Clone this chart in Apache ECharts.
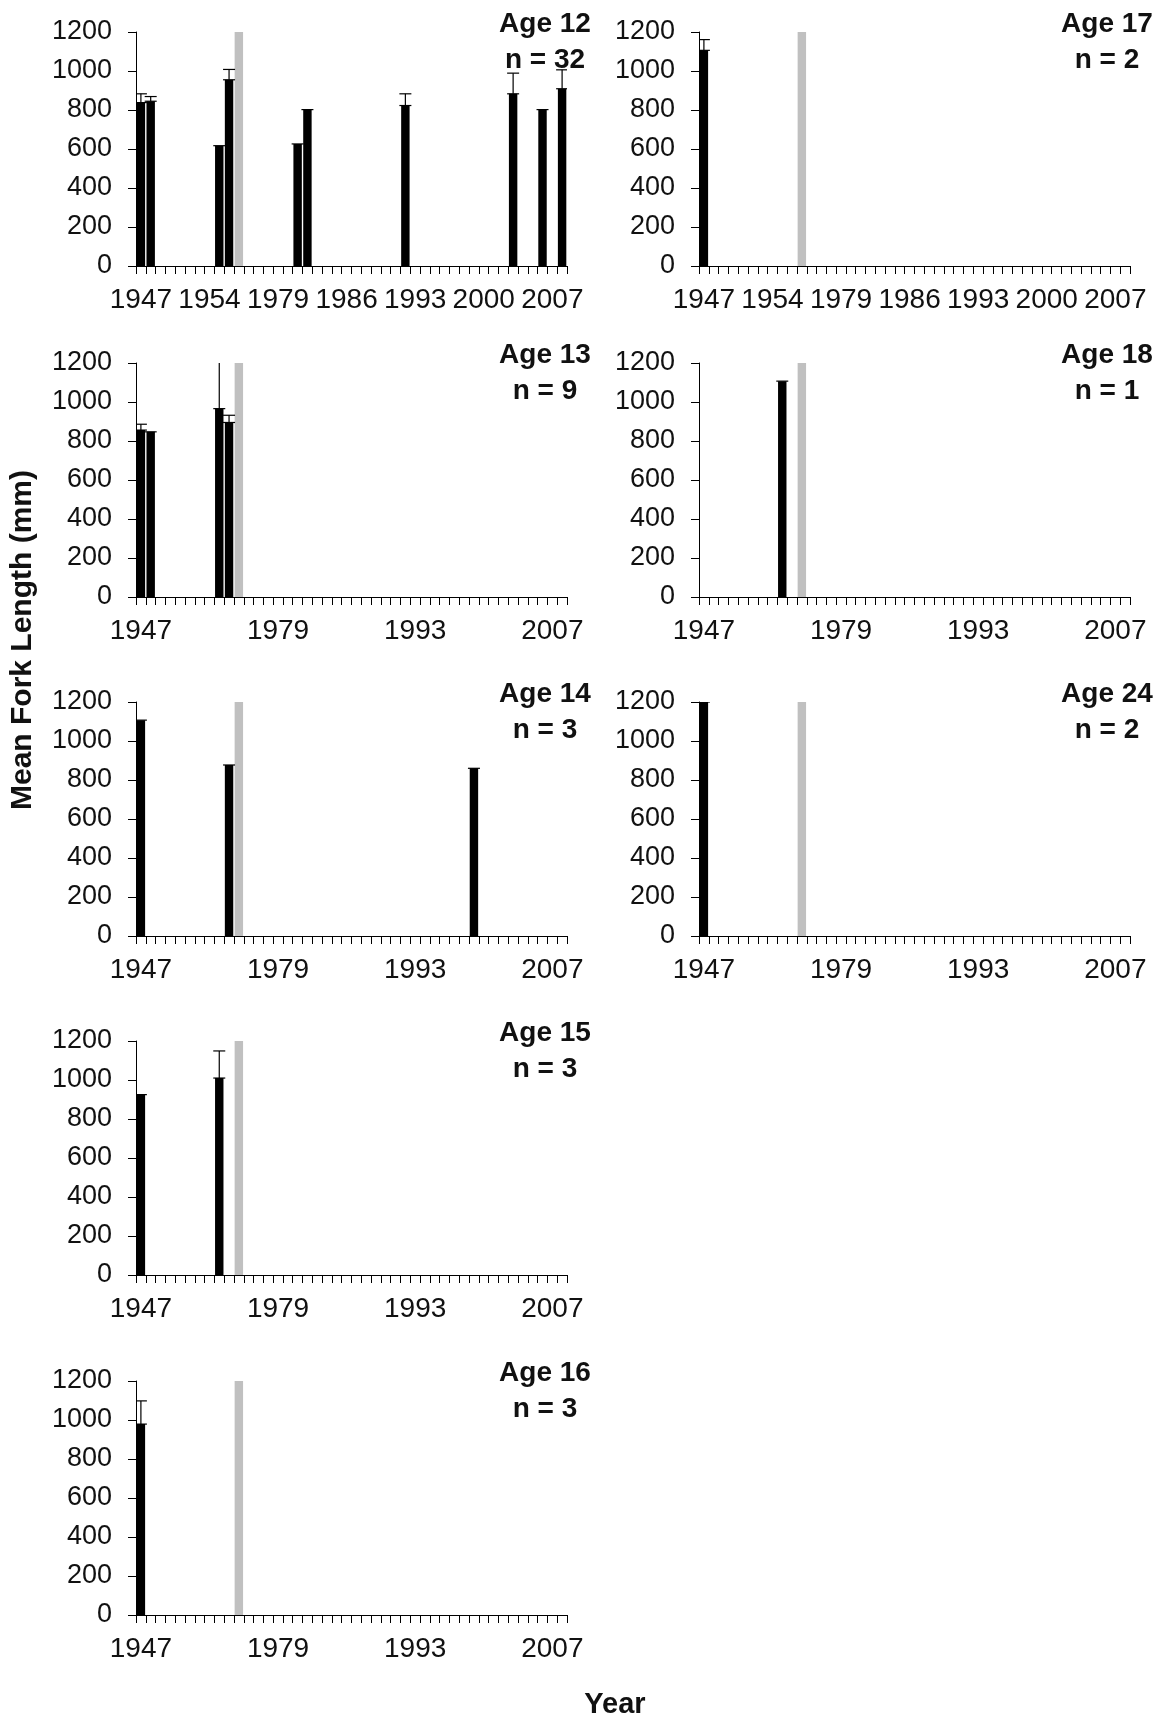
<!DOCTYPE html>
<html>
<head>
<meta charset="utf-8">
<script src="https://cdn.jsdelivr.net/npm/echarts@6/dist/echarts.min.js"></script>
<style>
  html, body { margin: 0; padding: 0; background: #fff; }
  #chart { width: 1166px; height: 1720px; }
</style>
</head>
<body>
<div id="chart"></div>
<script>
// 类目：1947-1956，一个断开位置（灰色柱），1976-2008
var years = ['1947','1948','1949','1950','1951','1952','1953','1954','1955','1956','',
  '1976','1977','1978','1979','1980','1981','1982','1983','1984','1985','1986','1987','1988',
  '1989','1990','1991','1992','1993','1994','1995','1996','1997','1998','1999','2000','2001',
  '2002','2003','2004','2005','2006','2007','2008'];
var breakValue = 1200;

var age12Years = ['1947','1948','1955','1956','1981','1982','1992','2003','2006','2008'];
var age12Mean  = [838, 845, 617, 955, 626, 802, 823, 883, 802, 909];
var age12Err   = [45, 24, 0, 53, 0, 0, 60, 106, 0, 97];

var age13Years = ['1947','1948','1955','1956'];
var age13Mean  = [856, 847, 966, 895];
var age13Err   = [30, 0, 240, 37];

var age14Years = ['1947','1956','1999'];
var age14Mean  = [1107, 877, 860];
var age14Err   = [0, 0, 0];

var age15Years = ['1947','1955'];
var age15Mean  = [925, 1010];
var age15Err   = [0, 139];

var age16Years = ['1947'];
var age16Mean  = [979];
var age16Err   = [119];

var age17Years = ['1947'];
var age17Mean  = [1106];
var age17Err   = [55];

var age18Years = ['1955'];
var age18Mean  = [1107];
var age18Err   = [0];

var age24Years = ['1947'];
var age24Mean  = [1200];
var age24Err   = [0];

var yTicks = [0, 200, 400, 600, 800, 1000, 1200];

// 面板: 标题, n, 数据, 列, 行, 标签间隔
var panels = [
  {title: 'Age 12', n: 32, yrs: age12Years, mean: age12Mean, err: age12Err, col: 0, row: 0, every: 6},
  {title: 'Age 13', n: 9,  yrs: age13Years, mean: age13Mean, err: age13Err, col: 0, row: 1, every: 13},
  {title: 'Age 14', n: 3,  yrs: age14Years, mean: age14Mean, err: age14Err, col: 0, row: 2, every: 13},
  {title: 'Age 15', n: 3,  yrs: age15Years, mean: age15Mean, err: age15Err, col: 0, row: 3, every: 13},
  {title: 'Age 16', n: 3,  yrs: age16Years, mean: age16Mean, err: age16Err, col: 0, row: 4, every: 13},
  {title: 'Age 17', n: 2,  yrs: age17Years, mean: age17Mean, err: age17Err, col: 1, row: 0, every: 6},
  {title: 'Age 18', n: 1,  yrs: age18Years, mean: age18Mean, err: age18Err, col: 1, row: 1, every: 13},
  {title: 'Age 24', n: 2,  yrs: age24Years, mean: age24Mean, err: age24Err, col: 1, row: 2, every: 13}
];

var colLeft = [136, 699];
var colTitleX = [545, 1107];
var rowTop = [32, 363, 702, 1041, 1381];
var gridW = 431, gridH = 234;

var font = 'Liberation Sans';

function renderErr(params, api) {
  var m = api.value(1), e = api.value(2);
  var base = api.coord([api.value(0), m]);
  var top = api.coord([api.value(0), m + e]);
  var hw = 6;
  var st = {stroke: '#000', lineWidth: 1.2};
  var kids = [{type: 'line', shape: {x1: base[0] - hw, y1: base[1], x2: base[0] + hw, y2: base[1]}, style: st}];
  if (e > 0) {
    kids.push({type: 'line', shape: {x1: base[0], y1: base[1], x2: base[0], y2: top[1]}, style: st});
    kids.push({type: 'line', shape: {x1: top[0] - hw, y1: top[1], x2: top[0] + hw, y2: top[1]}, style: st});
  }
  return {type: 'group', children: kids};
}

var option = {
  animation: false,
  backgroundColor: '#fff',
  grid: [], xAxis: [], yAxis: [], series: [], graphic: []
};

panels.forEach(function (p, i) {
  option.grid.push({left: colLeft[p.col], top: rowTop[p.row], width: gridW, height: gridH});
  option.xAxis.push({
    type: 'category', gridIndex: i, data: years, boundaryGap: true,
    axisLine: {lineStyle: {color: '#000', width: 1}},
    axisTick: {show: true, interval: 0, length: 8, lineStyle: {color: '#000'}},
    axisLabel: {interval: p.every, margin: 20, color: '#111', fontSize: 28, fontFamily: font},
    splitLine: {show: false}
  });
  option.yAxis.push({
    type: 'value', gridIndex: i, min: yTicks[0], max: yTicks[yTicks.length - 1], interval: 200,
    axisLine: {show: true, lineStyle: {color: '#000', width: 1}},
    axisTick: {show: true, length: 8, lineStyle: {color: '#000'}},
    axisLabel: {margin: 24, color: '#111', fontSize: 27, fontFamily: font,
      formatter: function (v) { return String(v); }},
    splitLine: {show: false}
  });
  var bars = p.yrs.map(function (y, k) { return [years.indexOf(y), p.mean[k]]; });
  var errs = p.yrs.map(function (y, k) { return [years.indexOf(y), p.mean[k], p.err[k]]; });
  option.series.push({
    type: 'bar', xAxisIndex: i, yAxisIndex: i, data: bars,
    barCategoryGap: '14%', barGap: '-100%',
    itemStyle: {color: '#000'}
  });
  option.series.push({
    type: 'bar', xAxisIndex: i, yAxisIndex: i, data: [[years.indexOf(''), breakValue]],
    barCategoryGap: '14%', barGap: '-100%',
    itemStyle: {color: '#c0c0c0'}
  });
  option.series.push({
    type: 'custom', xAxisIndex: i, yAxisIndex: i, data: errs, clip: true, z: 5,
    renderItem: renderErr, encode: {x: 0, y: 1}
  });
  option.graphic.push({
    type: 'text', x: colTitleX[p.col], y: rowTop[p.row] - 26,
    style: {
      text: p.title + '\nn = ' + p.n,
      align: 'center', textAlign: 'center', verticalAlign: 'top', textVerticalAlign: 'top',
      fontFamily: font, fontWeight: 'bold', fontSize: 28, lineHeight: 36, fill: '#111'
    }
  });
});

// 坐标轴标题
option.graphic.push({
  type: 'text', x: 23, y: 640, rotation: Math.PI / 2,
  style: {
    text: 'Mean Fork Length (mm)', align: 'center', textAlign: 'center',
    verticalAlign: 'middle', textVerticalAlign: 'middle',
    fontFamily: font, fontWeight: 'bold', fontSize: 30, fill: '#111'
  }
});
option.graphic.push({
  type: 'text', x: 615, y: 1705,
  style: {
    text: 'Year', align: 'center', textAlign: 'center',
    verticalAlign: 'middle', textVerticalAlign: 'middle',
    fontFamily: font, fontWeight: 'bold', fontSize: 29, fill: '#111'
  }
});

var myChart = echarts.init(document.getElementById('chart'));
myChart.setOption(option);
</script>
</body>
</html>
